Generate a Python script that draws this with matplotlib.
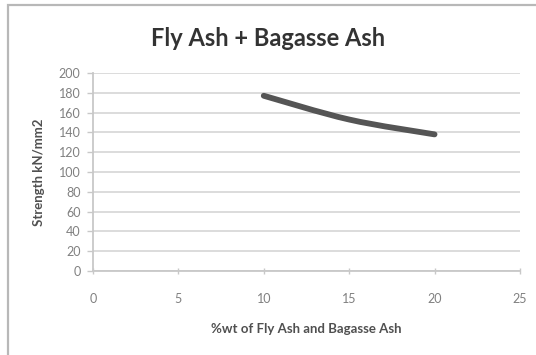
import matplotlib
matplotlib.use("Agg")
import matplotlib.pyplot as plt
from matplotlib.path import Path
from matplotlib.patches import PathPatch, Rectangle
import numpy as np

# Compressive strength vs. percentage of fly ash + bagasse ash
pct_ash = [10, 15, 20]
strength = [177, 153, 138]

x_ticks = [0, 5, 10, 15, 20, 25]
y_ticks = [0, 20, 40, 60, 80, 100, 120, 140, 160, 180, 200]

title = "Fly Ash + Bagasse Ash"
x_label = "%wt of Fly Ash and Bagasse Ash"
y_label = "Strength kN/mm2"

plt.rcParams["font.family"] = ["Lato", "DejaVu Sans"]

fig = plt.figure(figsize=(5.36, 3.55), dpi=100)
ax = fig.add_axes([0.1735, 0.2366, 0.7965, 0.5578])

# outer chart border (top and left visible)
fig.add_artist(Rectangle((8 / 536, -0.1), 1.2, (355 - 5) / 355 + 0.1,
                         transform=fig.transFigure, fill=False,
                         edgecolor="#b8b8b8", linewidth=1.6))


def smooth_path(xs, ys):
    """Catmull-Rom style smoothed path through the points (Excel smoothed line)."""
    pts = np.column_stack([xs, ys]).astype(float)
    verts = [pts[0]]
    codes = [Path.MOVETO]
    n = len(pts)
    for i in range(n - 1):
        p0 = pts[i - 1] if i > 0 else pts[i]
        p1 = pts[i]
        p2 = pts[i + 1]
        p3 = pts[i + 2] if i + 2 < n else pts[i + 1]
        c1 = p1 + (p2 - p0) / 6.0
        c2 = p2 - (p3 - p1) / 6.0
        verts += [c1, c2, p2]
        codes += [Path.CURVE4] * 3
    return Path(verts, codes)


ax.add_patch(PathPatch(smooth_path(pct_ash, strength), facecolor="none",
                       edgecolor="#555555", linewidth=4.2,
                       capstyle="round", joinstyle="round", zorder=3))

ax.set_xlim(0, 25)
ax.set_ylim(0, 200)
ax.set_xticks(x_ticks)
ax.set_yticks(y_ticks)
ax.set_xticklabels([str(v) for v in x_ticks])
ax.set_yticklabels([str(v) for v in y_ticks])

ax.yaxis.grid(True, color="#d9d9d9", linewidth=1.3)
ax.set_axisbelow(True)
for s in ["top", "right"]:
    ax.spines[s].set_visible(False)
for s in ["left", "bottom"]:
    ax.spines[s].set_color("#c8c8c8")
    ax.spines[s].set_linewidth(1.3)

ax.tick_params(axis="y", length=4, width=1.0, color="#c8c8c8",
               labelsize=9, labelcolor="#808080", pad=5)
ax.tick_params(axis="x", direction="inout", length=4, width=1.0,
               color="#c8c8c8", labelsize=9, labelcolor="#808080", pad=14)

ax.set_ylabel(y_label, fontsize=9.5, fontweight="bold", color="#505050",
              labelpad=10)
ax.set_xlabel(x_label, fontsize=9.5, fontweight="bold", color="#505050",
              labelpad=13)

fig.text(0.5, (355 - 39) / 355, title, ha="center", va="center",
         fontsize=17, fontweight="bold", color="#333333")

fig.savefig("out.png", dpi=100, facecolor="white")
